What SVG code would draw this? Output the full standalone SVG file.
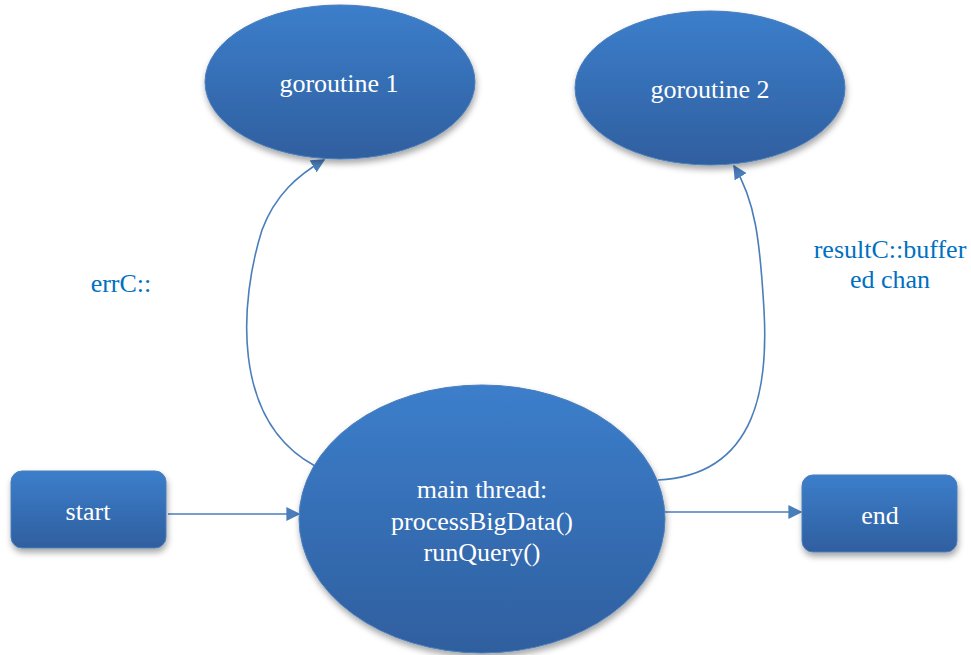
<svg xmlns="http://www.w3.org/2000/svg" width="971" height="655" viewBox="0 0 971 655">
<style>
.node{fill:url(#g);stroke:#4a7ebb;stroke-width:1;filter:url(#sh)}
.t{font-family:"Liberation Serif","Times New Roman",serif;font-size:26px;fill:#ffffff;text-anchor:middle}
.lbl{font-family:"Liberation Serif","Times New Roman",serif;font-size:26px;fill:#0070c0;text-anchor:middle}
.c{fill:none;stroke:#4a7ebb;stroke-width:1.6}
</style>
<defs>
<linearGradient id="g" x1="0" y1="0" x2="0" y2="1">
<stop offset="0" stop-color="#3c7ecb"/>
<stop offset="1" stop-color="#2f5f9f"/>
</linearGradient>
<filter id="sh" x="-20%" y="-20%" width="140%" height="150%">
<feDropShadow dx="1" dy="4" stdDeviation="3" flood-color="#000" flood-opacity="0.35"/>
</filter>
<marker id="a" viewBox="0 0 10 10" refX="9" refY="5" markerWidth="10" markerHeight="10" markerUnits="userSpaceOnUse" orient="auto">
<path d="M0,0 L10,5 L0,10 z" fill="#4a7ebb"/>
</marker>
<marker id="a2" viewBox="0 0 10 10" refX="9" refY="5" markerWidth="14" markerHeight="14" markerUnits="userSpaceOnUse" orient="auto">
<path d="M0,0 L10,5 L0,10 z" fill="#4a7ebb"/>
</marker>
</defs>
<g id="connectors">
<path class="c" d="M168,514 L299,514" marker-end="url(#a2)"/>
<path class="c" d="M665,512 L801,512" marker-end="url(#a2)"/>
<path class="c" d="M315,466 C230,420 240,300 262,230 C275,195 298,175 324,160" marker-end="url(#a2)"/>
<path class="c" d="M658,480 C760,475 768,380 764,310 C760,240 755,200 734,166" marker-end="url(#a2)"/>
</g>
<g id="goroutine1">
<ellipse class="node" cx="340" cy="82" rx="135" ry="77"/>
<text class="t" x="339" y="92">goroutine 1</text>
</g>
<g id="goroutine2">
<ellipse class="node" cx="710" cy="88" rx="135" ry="77"/>
<text class="t" x="710" y="98">goroutine 2</text>
</g>
<g id="start">
<rect class="node" x="11" y="471" width="155" height="77" rx="11"/>
<text class="t" x="88" y="520">start</text>
</g>
<g id="end">
<rect class="node" x="802" y="475" width="155" height="77" rx="11"/>
<text class="t" x="880" y="524">end</text>
</g>
<g id="main">
<ellipse class="node" cx="482" cy="519" rx="183" ry="134"/>
<text class="t" x="482" y="498">main thread:</text>
<text class="t" x="482" y="530">processBigData()</text>
<text class="t" x="482" y="561">runQuery()</text>
</g>
<g id="labels">
<text class="lbl" x="121" y="292">errC::</text>
<text class="lbl" x="890" y="258">resultC::buffer</text>
<text class="lbl" x="890" y="288">ed chan</text>
</g>
</svg>
